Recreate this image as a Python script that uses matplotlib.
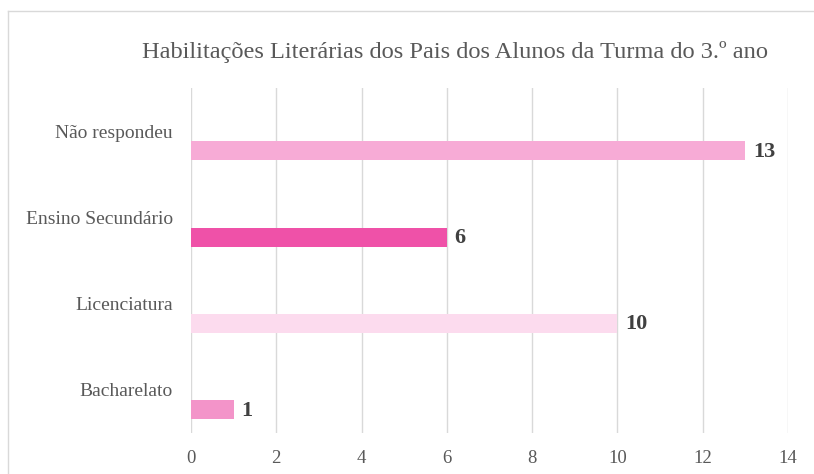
import matplotlib
matplotlib.use('Agg')
import matplotlib.pyplot as plt
from matplotlib.lines import Line2D

# data (bottom to top, as drawn)
categories = ['Bacharelato', 'Licenciatura', 'Ensino Secundário', 'Não respondeu']
values = [1, 10, 6, 13]
colors = ['#F394C9', '#FCDBEE', '#EF51A8', '#F7ABD6']
xticks = [0, 2, 4, 6, 8, 10, 12, 14]

plt.rcParams['font.family'] = ['Liberation Serif', 'DejaVu Serif']

fig = plt.figure(figsize=(8.14, 4.74), dpi=100)
ax = fig.add_axes([191/814, 1 - 433/474, 597/814, 345/474])

pos = [i - 0.23 for i in range(len(categories))]
ax.barh(pos, values, height=0.22, color=colors, zorder=3)

for y, v in zip(pos, values):
    ax.text(v + 0.18, y - 0.01, str(v), va='center', ha='left',
            fontsize=16, fontweight='bold', color='#404040', zorder=4)

ax.set_xlim(0, 14)
ax.set_ylim(-0.5, len(categories) - 0.5)
ax.set_xticks(xticks)
ax.set_xticklabels([str(t) for t in xticks], fontsize=13.5, color='#595959')
ax.set_yticks(range(len(categories)))
ax.set_yticklabels(categories, fontsize=14, color='#595959')
ax.tick_params(axis='both', length=0)
ax.tick_params(axis='y', pad=13)
ax.tick_params(axis='x', pad=12)
ax.grid(axis='x', color='#D9D9D9', linewidth=1, zorder=0)
for s in ax.spines.values():
    s.set_visible(False)

fig.text(455/814, 1 - 52/474, 'Habilitações Literárias dos Pais dos Alunos da Turma do 3.º ano',
         ha='center', va='center', fontsize=17.6, color='#595959')

# chart border (cropped on right and bottom)
fig.add_artist(Line2D([8/814, 8/814], [0, 1 - 11/474], color='#D9D9D9', lw=1, transform=fig.transFigure))
fig.add_artist(Line2D([8/814, 1], [1 - 11/474, 1 - 11/474], color='#D9D9D9', lw=1, transform=fig.transFigure))

fig.savefig('out.png', dpi=100)
